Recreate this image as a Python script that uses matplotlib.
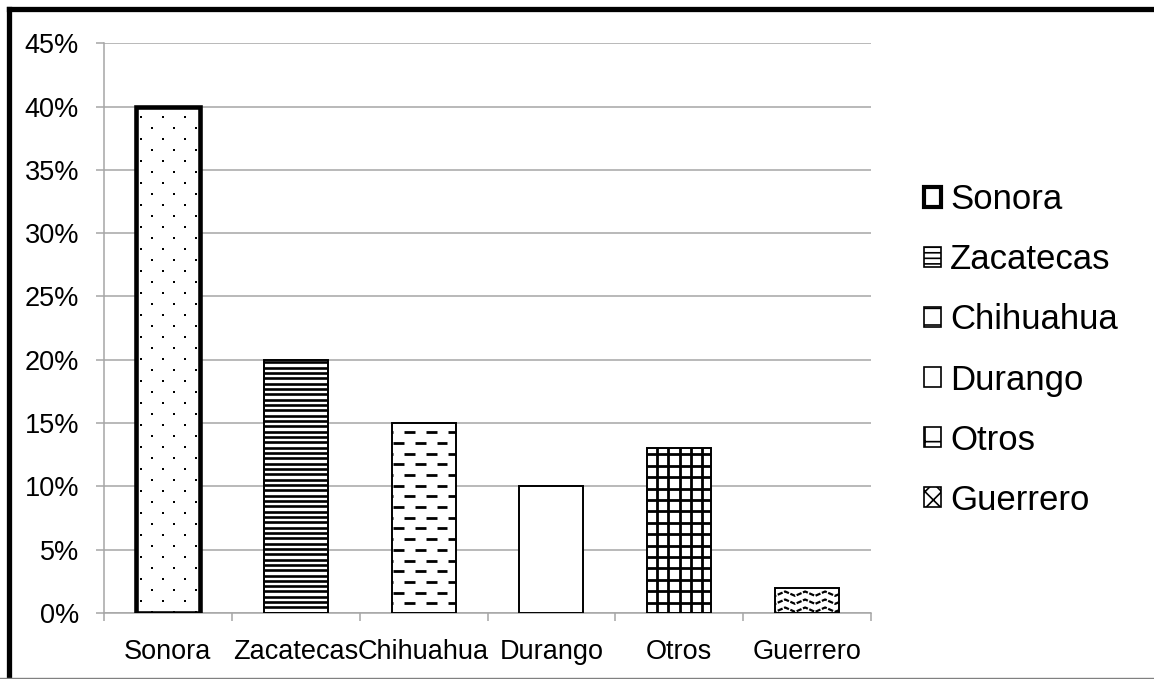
import matplotlib
matplotlib.use('Agg')
import matplotlib.pyplot as plt
from matplotlib.patches import Patch
from matplotlib.lines import Line2D
from matplotlib.ticker import FuncFormatter, MultipleLocator
import numpy as np

plt.rcParams['font.family'] = ['Liberation Sans', 'DejaVu Sans']
plt.rcParams['hatch.linewidth'] = 1.2

# Share of production by state [%]
estados = ['Sonora', 'Zacatecas', 'Chihuahua', 'Durango', 'Otros', 'Guerrero']
porcentaje = [40, 20, 15, 10, 13, 2]

W, H = 1154, 679
fig = plt.figure(figsize=(W / 100, H / 100), dpi=100)
ax = fig.add_axes([104 / W, 1 - 613 / H, 767 / W, (613 - 43.3) / H])

x = np.arange(len(estados))
ax.set_xlim(-0.5, len(estados) - 0.5)
ax.set_ylim(0, 45)

bars = ax.bar(x, porcentaje, width=0.5, color='white', edgecolor='black',
              linewidth=1.4, zorder=3)
bars[0].set_linewidth(3.3)

# pixels per data unit, used to lay out fill patterns in screen space
sx = ax.bbox.width / 6.0
sy = ax.bbox.height / 45.0


def dots(bar):
    x0, w, h = bar.get_x(), bar.get_width(), bar.get_height()
    xs, ys = [], []
    for i, yp in enumerate(np.arange(10, h * sy + 11, 11)):
        off = 5.3 if i % 2 == 0 else 16.3
        for xp in np.arange(off, w * sx, 22):
            xs.append(x0 + xp / sx)
            ys.append(h - yp / sy)
    sc = ax.scatter(xs, ys, marker='s', s=2.4, color='black', lw=0, zorder=4)
    sc.set_clip_path(bar)


def stripes(bar, step=5.33, lw=1.9):
    x0, w, h = bar.get_x(), bar.get_width(), bar.get_height()
    for yp in np.arange(2.5, h * sy, step):
        ln, = ax.plot([x0, x0 + w], [h - yp / sy] * 2, color='black', lw=lw,
                      solid_capstyle='butt', zorder=4)
        ln.set_clip_path(bar)


def dashes(bar):
    x0, w, h = bar.get_x(), bar.get_width(), bar.get_height()
    for i, yp in enumerate(np.arange(9, h * sy, 10.7)):
        off = 13 if i % 2 == 0 else 2
        for xp in np.arange(off - 22, w * sx, 21.7):
            ln, = ax.plot([x0 + xp / sx, x0 + (xp + 10.5) / sx],
                          [h - yp / sy] * 2, color='black', lw=2.0,
                          solid_capstyle='butt', zorder=4)
            ln.set_clip_path(bar)


def grid_fill(bar, step=11.4, lw=2.0):
    x0, w, h = bar.get_x(), bar.get_width(), bar.get_height()
    for yp in np.arange(6, h * sy, step):
        ln, = ax.plot([x0, x0 + w], [h - yp / sy] * 2, color='black', lw=lw,
                      solid_capstyle='butt', zorder=4)
        ln.set_clip_path(bar)
    for xp in np.arange(9.5, w * sx, step):
        ln, = ax.plot([x0 + xp / sx] * 2, [0, h], color='black', lw=lw,
                      solid_capstyle='butt', zorder=4)
        ln.set_clip_path(bar)


def waves(bar):
    x0, w, h = bar.get_x(), bar.get_width(), bar.get_height()
    for yp in np.arange(6, h * sy, 8):
        xp = np.arange(-10, w * sx + 10, 10)
        zz = np.where((np.arange(len(xp)) % 2) == 0, -2.2, 2.2)
        ln, = ax.plot(x0 + xp / sx, h - (yp + zz) / sy, color='black', lw=1.6,
                      linestyle=(0, (2.4, 0.7)), zorder=4)
        ln.set_clip_path(bar)


dots(bars[0])
stripes(bars[1])
dashes(bars[2])
grid_fill(bars[4])
waves(bars[5])

# axes styling
grid_c = '#a6a6a6'
ax.yaxis.set_major_locator(MultipleLocator(5))
ax.yaxis.set_major_formatter(FuncFormatter(lambda v, p: '%d%%' % v))
ax.grid(axis='y', color=grid_c, lw=1.1, zorder=0)
for s in ['top', 'right']:
    ax.spines[s].set_visible(False)
for s in ['left', 'bottom']:
    ax.spines[s].set_color(grid_c)
    ax.spines[s].set_linewidth(1.1)
    ax.spines[s].set_zorder(2)
ax.tick_params(axis='y', length=6, width=1.1, color=grid_c, pad=12,
               labelsize=19.5)
ax.set_xticks(x)
ax.set_xticklabels(estados)
ax.set_xticks(np.arange(-0.5, len(estados), 1), minor=True)
ax.tick_params(axis='x', which='major', length=0, pad=19, labelsize=19.5)
ax.tick_params(axis='x', which='minor', length=6, width=1.1, color=grid_c)

# legend
hatches = [None, '---', '-', None, '+', 'xx']
handles = []
for i, nombre in enumerate(estados):
    handles.append(Patch(facecolor='white', edgecolor='black',
                         lw=3.0 if i == 0 else 1.2, hatch=hatches[i],
                         label=nombre))
fig.legend(handles=handles, loc='center left',
           bbox_to_anchor=(910 / W, 1 - 350 / H), frameon=False,
           fontsize=25, handlelength=0.5, handleheight=0.5,
           handletextpad=0.25, labelspacing=0.78, borderaxespad=0)

# outer frame
fig.add_artist(Line2D([8.5 / W, 8.5 / W], [1 - 9 / H, 1 - 678 / H],
                      transform=fig.transFigure, color='black', lw=3.8))
fig.add_artist(Line2D([8.5 / W, 1], [1 - 9 / H, 1 - 9 / H],
                      transform=fig.transFigure, color='black', lw=3.8))
fig.add_artist(Line2D([0, 1], [1 - 677.5 / H, 1 - 677.5 / H],
                      transform=fig.transFigure, color='#808080', lw=1.0))

fig.savefig('out.png', dpi=100)
